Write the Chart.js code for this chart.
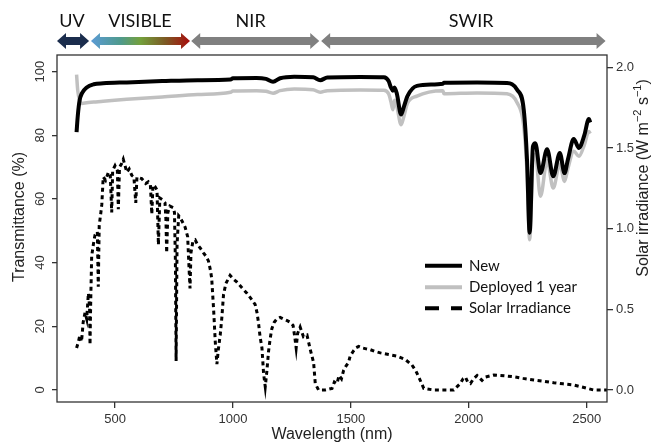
<!DOCTYPE html>
<html>
<head>
<meta charset="utf-8">
<script src="https://cdn.jsdelivr.net/npm/chart.js@4.4.1/dist/chart.umd.min.js"></script>
<style>
  body { margin: 0; background: #fff; }
  canvas { display: block; }
</style>
</head>
<body>
<canvas id="specChart" width="654" height="444"></canvas>
<script>
// transmittance curves (%)
const wavelengthT = [337, 342, 350, 360, 380, 410, 450, 550, 700, 850, 990, 1000, 1100, 1140, 1170, 1200, 1260, 1340, 1370, 1400, 1540, 1640, 1660, 1670, 1678, 1685, 1695, 1713, 1725, 1740, 1780, 1890, 1895, 2035, 2162, 2205, 2233, 2247, 2258, 2272, 2282, 2304, 2332, 2358, 2386, 2406, 2420, 2445, 2467, 2490, 2509, 2515];
const transNew = [81, 86, 91, 93.2, 95, 96, 96.3, 96.6, 97, 97.3, 97.5, 97.9, 98, 97.7, 96.8, 97.9, 98.4, 98.2, 97.3, 98.1, 98.3, 98.2, 97, 95, 94, 95, 93, 86.5, 89, 92.3, 95.5, 96.2, 96.5, 96.6, 96.4, 94.3, 88, 72, 49.4, 76.5, 77.5, 68.1, 75.6, 67.1, 74.4, 68.1, 72.3, 78.8, 76, 80, 85.1, 84];
const transDeployed = [99, 94, 91, 90, 90.2, 90.4, 90.7, 91.3, 92, 92.8, 93.5, 93.9, 94, 93.8, 93.2, 94, 94.5, 94.3, 93.5, 94, 94.2, 94.1, 93, 90.5, 88, 91, 89, 83.3, 86, 90, 92.3, 94, 93, 93.3, 93, 90.2, 82.8, 68, 47.2, 72, 74, 60.8, 72, 63.4, 71, 65.5, 69.5, 75, 73.4, 77, 81.2, 80.5];

// solar irradiance (right axis)
const solarWl = [337, 345, 351, 358, 365, 373, 380, 387, 392, 394, 397, 401, 408, 415, 425, 429, 433, 440, 444, 450, 460, 472, 480, 486, 490, 500, 510, 514, 519, 527, 535, 550, 560, 571, 580, 588, 593, 613, 630, 641, 650, 656, 661, 670, 678, 684, 690, 700, 712, 716, 719, 724, 733, 747, 752, 756, 759, 763, 770, 776, 790, 797, 808, 814, 818, 822, 830, 840, 850, 861, 875, 885, 896, 905, 910, 918, 925, 932, 938, 946, 953, 960, 970, 988, 1000, 1016, 1040, 1059, 1080, 1094, 1102, 1108, 1115, 1123, 1130, 1137, 1144, 1151, 1158, 1165, 1175, 1186, 1200, 1214, 1230, 1243, 1255, 1262, 1268, 1274, 1285, 1299, 1314, 1328, 1342, 1349, 1363, 1391, 1420, 1430, 1441, 1450, 1460, 1469, 1480, 1490, 1497, 1510, 1520, 1533, 1550, 1565, 1582, 1600, 1625, 1660, 1696, 1730, 1759, 1775, 1788, 1800, 1809, 1851, 1936, 1964, 1976, 1986, 1995, 2007, 2020, 2035, 2045, 2056, 2070, 2106, 2150, 2191, 2230, 2276, 2320, 2360, 2400, 2445, 2475, 2502, 2530, 2587];
const solarIrr = [0.26, 0.30, 0.34, 0.30, 0.42, 0.48, 0.44, 0.60, 0.52, 0.28, 0.55, 0.83, 0.90, 0.96, 0.98, 0.64, 1.02, 1.10, 1.15, 1.32, 1.30, 1.35, 1.33, 1.10, 1.36, 1.39, 1.36, 1.12, 1.38, 1.40, 1.43, 1.35, 1.37, 1.33, 1.32, 1.16, 1.32, 1.31, 1.28, 1.29, 1.27, 1.09, 1.27, 1.26, 1.24, 0.90, 1.19, 1.18, 1.16, 1.05, 0.85, 1.10, 1.14, 1.13, 1.10, 0.80, 0.18, 0.90, 1.08, 1.07, 1.03, 1.01, 0.95, 0.75, 0.63, 0.85, 0.92, 0.93, 0.90, 0.88, 0.85, 0.83, 0.80, 0.74, 0.69, 0.50, 0.30, 0.16, 0.25, 0.34, 0.45, 0.59, 0.66, 0.71, 0.69, 0.67, 0.63, 0.60, 0.56, 0.53, 0.48, 0.42, 0.33, 0.26, 0.10, 0.02, 0.12, 0.24, 0.32, 0.38, 0.42, 0.44, 0.45, 0.44, 0.43, 0.42, 0.40, 0.33, 0.26, 0.35, 0.39, 0.33, 0.34, 0.25, 0.17, 0.04, 0.0, 0.0, 0.01, 0.05, 0.04, 0.09, 0.07, 0.12, 0.15, 0.17, 0.21, 0.24, 0.26, 0.27, 0.26, 0.255, 0.25, 0.24, 0.23, 0.22, 0.21, 0.19, 0.155, 0.12, 0.08, 0.04, 0.01, 0.0, 0.0, 0.04, 0.07, 0.08, 0.05, 0.04, 0.07, 0.09, 0.075, 0.06, 0.08, 0.093, 0.088, 0.082, 0.072, 0.062, 0.054, 0.045, 0.038, 0.031, 0.02, 0.01, 0.0, 0.0];

const xTicks = [500, 1000, 1500, 2000, 2500];
const yLeftTicks = [0, 20, 40, 60, 80, 100];
const yRightTicks = [0, 0.5, 1.0, 1.5, 2.0];

// spectral bands above the plot (nm)
const bandNames = ["UV", "VISIBLE", "NIR", "SWIR"];
const bandStart = [254, 398, 823, 1374];
const bandEnd = [390, 818, 1366, 2580];
const bandLabelAt = [317, 606, 1075, 2010];

const canvas = document.getElementById("specChart");
const ctx = canvas.getContext("2d");

const axisFont = { family: "Liberation Sans, Arial, sans-serif", size: 13 };
const titleFont = { family: "Liberation Sans, Arial, sans-serif", size: 16 };

function toXY(xs, ys) {
  return xs.map((x, i) => ({ x: x, y: ys[i] }));
}

function arrow(c, x1, x2, cy) {
  const bh = 4, hh = 8, hl = 9;
  c.beginPath();
  c.moveTo(x1, cy);
  c.lineTo(x1 + hl, cy - hh);
  c.lineTo(x1 + hl, cy - bh);
  c.lineTo(x2 - hl, cy - bh);
  c.lineTo(x2 - hl, cy - hh);
  c.lineTo(x2, cy);
  c.lineTo(x2 - hl, cy + hh);
  c.lineTo(x2 - hl, cy + bh);
  c.lineTo(x1 + hl, cy + bh);
  c.lineTo(x1 + hl, cy + hh);
  c.closePath();
  c.fill();
}

const decorations = {
  id: "decorations",
  afterDraw(chart) {
    const c = chart.ctx;
    const a = chart.chartArea;
    const xs = chart.scales.x;
    c.save();

    // frame
    c.strokeStyle = "#333";
    c.lineWidth = 1.3;
    c.strokeRect(a.left, a.top, a.right - a.left, a.bottom - a.top);

    // band arrows + labels
    const arrowY = 41;
    bandNames.forEach((name, i) => {
      const x1 = xs.getPixelForValue(bandStart[i]);
      const x2 = xs.getPixelForValue(bandEnd[i]);
      if (i === 0) {
        c.fillStyle = "#1b2d4d";
      } else if (i === 1) {
        const g = c.createLinearGradient(x1, 0, x2, 0);
        g.addColorStop(0, "#5b9bd5");
        g.addColorStop(0.3, "#4f9a8c");
        g.addColorStop(0.5, "#74a03c");
        g.addColorStop(0.75, "#7c5a24");
        g.addColorStop(1, "#a80d0d");
        c.fillStyle = g;
      } else {
        c.fillStyle = "#808080";
      }
      arrow(c, x1, x2, arrowY);

      c.fillStyle = "#111";
      c.font = "18px Lato, sans-serif";
      c.textAlign = "center";
      c.textBaseline = "middle";
      c.fillText(name, xs.getPixelForValue(bandLabelAt[i]), 21);
    });

    // y axis titles
    c.fillStyle = "#222";
    c.font = "16px Liberation Sans, Arial, sans-serif";
    c.textBaseline = "middle";
    c.save();
    c.translate(20, 217);
    c.rotate(-Math.PI / 2);
    c.textAlign = "center";
    c.fillText("Transmittance (%)", 0, 0);
    c.restore();

    // right title with superscripts
    const parts = [
      ["Solar irradiance (W m", false], ["\u22122", true], [" s", false], ["\u22121", true], [")", false]
    ];
    const bigF = "16px Liberation Sans, Arial, sans-serif";
    const supF = "11px Liberation Sans, Arial, sans-serif";
    let total = 0;
    parts.forEach(p => { c.font = p[1] ? supF : bigF; total += c.measureText(p[0]).width; });
    c.save();
    c.translate(644, 178);
    c.rotate(-Math.PI / 2);
    c.textAlign = "left";
    let px = -total / 2;
    parts.forEach(p => {
      c.font = p[1] ? supF : bigF;
      c.fillText(p[0], px, p[1] ? -6 : 0);
      px += c.measureText(p[0]).width;
    });
    c.restore();

    // legend
    const lx1 = 425, lx2 = 462, tx = 469;
    const rows = [265.7, 287.3, 308.3];
    chart.data.datasets.forEach((ds, i) => {
      const y = rows[i];
      c.strokeStyle = ds.borderColor;
      c.lineWidth = 4;
      c.lineCap = "butt";
      c.setLineDash(ds.borderDash ? [14, 12] : []);
      c.beginPath();
      c.moveTo(lx1, y);
      c.lineTo(lx2, y);
      c.stroke();
      c.setLineDash([]);
      c.fillStyle = "#111";
      c.font = "15px Lato, sans-serif";
      c.textAlign = "left";
      c.textBaseline = "middle";
      c.fillText(ds.label, tx, y);
    });

    c.restore();
  }
};

const tickGrid = {
  drawOnChartArea: false,
  drawTicks: true,
  color: "#333",
  lineWidth: 1.3
};

new Chart(ctx, {
  type: "line",
  data: {
    datasets: [
      {
        label: "New",
        data: toXY(wavelengthT, transNew),
        borderColor: "#000",
        borderWidth: 4,
        pointRadius: 0,
        cubicInterpolationMode: "monotone",
        yAxisID: "y"
      },
      {
        label: "Deployed 1 year",
        data: toXY(wavelengthT, transDeployed),
        borderColor: "#c0c0c0",
        borderWidth: 3.5,
        pointRadius: 0,
        cubicInterpolationMode: "monotone",
        yAxisID: "y"
      },
      {
        label: "Solar Irradiance",
        data: toXY(solarWl, solarIrr),
        borderColor: "#000",
        borderWidth: 3,
        borderDash: [4, 3.5],
        pointRadius: 0,
        tension: 0,
        yAxisID: "y2"
      }
    ]
  },
  options: {
    responsive: false,
    animation: false,
    devicePixelRatio: 1,
    layout: { padding: { top: 55, left: 0, right: 0, bottom: 0 } },
    plugins: {
      legend: { display: false },
      tooltip: { enabled: false }
    },
    scales: {
      x: {
        type: "linear",
        position: "bottom",
        min: 254,
        max: 2586,
        afterBuildTicks: s => { s.ticks = xTicks.map(v => ({ value: v })); },
        afterFit: s => { s.height = 42; },
        grid: { ...tickGrid, tickLength: 6 },
        border: { display: false },
        ticks: {
          font: axisFont,
          color: "#333",
          padding: 4,
          maxRotation: 0,
          autoSkip: false,
          callback: v => String(v)
        },
        title: {
          display: true,
          text: "Wavelength (nm)",
          font: titleFont,
          color: "#222",
          padding: { top: 0, bottom: 0 }
        }
      },
      y: {
        type: "linear",
        position: "left",
        min: -3.8,
        max: 105.2,
        afterBuildTicks: s => { s.ticks = yLeftTicks.map(v => ({ value: v })); },
        afterFit: s => { s.width = 57; },
        grid: { ...tickGrid, tickLength: 5 },
        border: { display: false },
        ticks: {
          font: axisFont,
          color: "#333",
          padding: 1,
          minRotation: 90,
          maxRotation: 90,
          crossAlign: "center",
          autoSkip: false,
          callback: v => String(v)
        }
      },
      y2: {
        type: "linear",
        position: "right",
        min: -0.0744,
        max: 2.0762,
        afterBuildTicks: s => { s.ticks = yRightTicks.map(v => ({ value: v })); },
        afterFit: s => { s.width = 47; },
        grid: { ...tickGrid, tickLength: 6 },
        border: { display: false },
        ticks: {
          font: axisFont,
          color: "#333",
          padding: 3,
          autoSkip: false,
          callback: v => v.toFixed(1)
        }
      }
    }
  },
  plugins: [decorations]
});
</script>
</body>
</html>
